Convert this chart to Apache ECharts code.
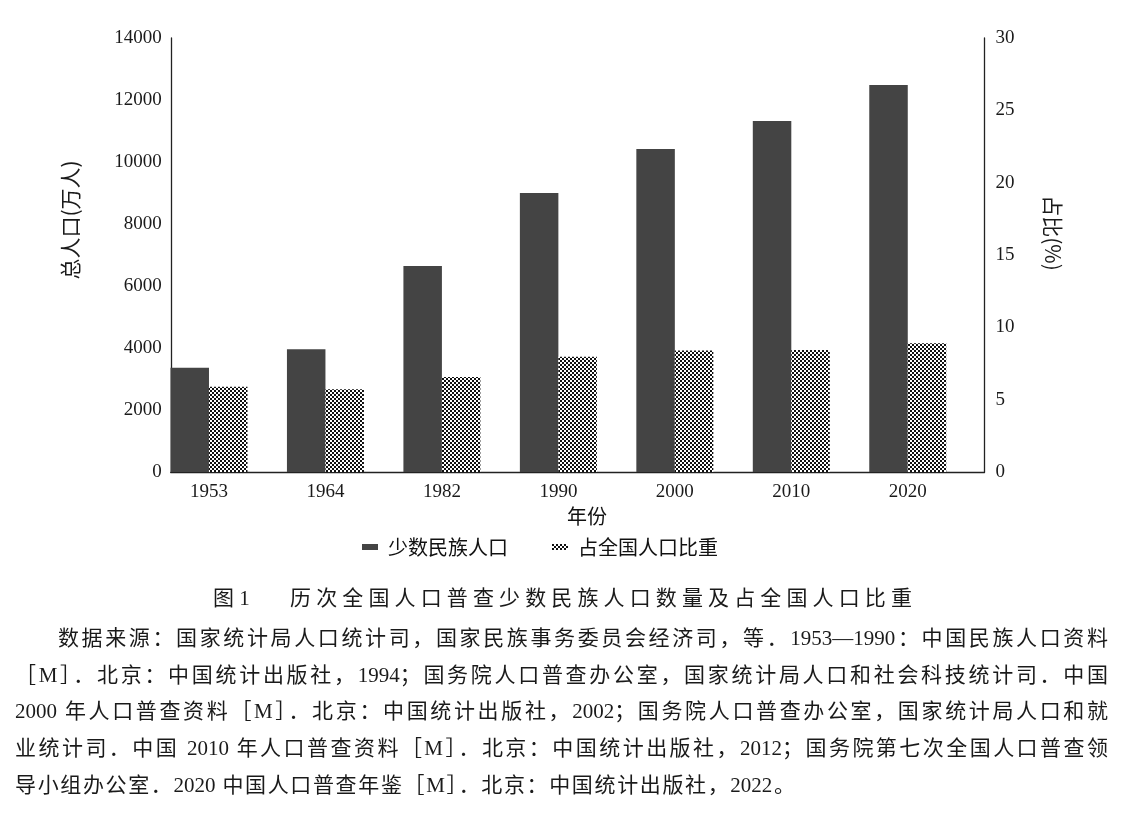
<!DOCTYPE html>
<html>
<head>
<meta charset="utf-8">
<script src="https://cdn.jsdelivr.net/npm/echarts@6/dist/echarts.min.js"></script>
<style>
  html, body { margin: 0; padding: 0; background: #fff; }
  #wrap { position: relative; width: 1121px; height: 837px; overflow: hidden; }
  #chart { position: absolute; left: 0; top: 0; width: 1121px; height: 837px; }
  .cap { position: absolute; color: #1a1a1a; font-family: "Liberation Serif", "Noto Sans CJK SC", serif; white-space: nowrap; }
  #title1 { left: 213px; top: 585px; font-size: 21px; line-height: 26px; }
  #title2 { left: 290px; top: 585px; width: 622px; font-size: 21px; line-height: 26px; text-align: justify; text-align-last: justify; white-space: normal; }
  .ln { position: absolute; font-size: 21px; line-height: 26px; height: 26px; white-space: normal; text-align: justify; text-align-last: justify; overflow: hidden; }
</style>
</head>
<body>
<div id="wrap">
  <div id="chart"></div>
  <div class="cap" id="title1">图&nbsp;1</div>
  <div class="cap" id="title2">历次全国人口普查少数民族人口数量及占全国人口比重</div>
  <div class="cap ln" style="left:58px; top:625px; width:1050px;">数据来源：国家统计局人口统计司，国家民族事务委员会经济司，等．1953—1990：中国民族人口资料</div>
  <div class="cap ln" style="left:15px; top:662px; width:1093px;">［M］．北京：中国统计出版社，1994；国务院人口普查办公室，国家统计局人口和社会科技统计司．中国</div>
  <div class="cap ln" style="left:15px; top:698px; width:1093px;">2000 年人口普查资料［M］．北京：中国统计出版社，2002；国务院人口普查办公室，国家统计局人口和就</div>
  <div class="cap ln" style="left:15px; top:735px; width:1093px;">业统计司．中国 2010 年人口普查资料［M］．北京：中国统计出版社，2012；国务院第七次全国人口普查领</div>
  <div class="cap ln" style="left:15px; top:772px; width:780px;">导小组办公室．2020 中国人口普查年鉴［M］．北京：中国统计出版社，2022。</div>
</div>
<script>
// ---- data ----
var years = ['1953', '1964', '1982', '1990', '2000', '2010', '2020'];
var minorityPop = [3362, 3958, 6645, 9000, 10419, 11323, 12484];   // 万人
var sharePct = [5.90, 5.72, 6.57, 7.97, 8.39, 8.43, 8.90];          // %
var leftTicks = { min: 0, max: 14000, interval: 2000 };
var rightTicks = { min: 0, max: 30, interval: 5 };
var seriesNames = ['少数民族人口', '占全国人口比重'];

// checker pattern
var pc = document.createElement('canvas');
pc.width = 4; pc.height = 4;
var g = pc.getContext('2d');
g.fillStyle = '#ffffff'; g.fillRect(0, 0, 4, 4);
g.fillStyle = '#111111';
g.fillRect(0, 0, 2, 2); g.fillRect(2, 2, 2, 2);

var labelFont = { fontFamily: 'Liberation Serif', fontSize: 19, color: '#1a1a1a' };
var axisLine = { show: true, lineStyle: { color: '#222', width: 1.3 } };
function plain(v) { return String(v); }

var chart = echarts.init(document.getElementById('chart'));
chart.setOption({
  animation: false,
  backgroundColor: '#fff',
  grid: [
    { left: 150.75, right: 155, top: 38, bottom: 365 },
    { left: 170.7, right: 136.5, top: 38, bottom: 365 }
  ],
  legend: {
    data: [{ name: seriesNames[0], icon: 'rect' }, { name: seriesNames[1], icon: 'rect' }],
    left: 357, top: 532,
    itemWidth: 16, itemHeight: 6, itemGap: 44,
    textStyle: { fontFamily: 'Noto Sans CJK SC', fontSize: 20, color: '#111', padding: [0, 0, 0, 5] }
  },
  xAxis: [
    {
      type: 'category', gridIndex: 0, data: years,
      axisLine: { show: false }, axisTick: { show: false },
      axisLabel: Object.assign({ margin: 11 }, labelFont)
    },
    {
      type: 'value', gridIndex: 1, min: 0, max: 1,
      axisLine: axisLine, axisTick: { show: false }, axisLabel: { show: false }, splitLine: { show: false }
    }
  ],
  yAxis: [
    {
      type: 'value', gridIndex: 0, position: 'left', offset: -20,
      min: leftTicks.min, max: leftTicks.max, interval: leftTicks.interval,
      axisLine: axisLine, axisTick: { show: false }, splitLine: { show: false },
      axisLabel: Object.assign({ margin: 9, formatter: plain }, labelFont)
    },
    {
      type: 'value', gridIndex: 0, position: 'right', offset: 18.5,
      min: rightTicks.min, max: rightTicks.max, interval: rightTicks.interval,
      axisLine: axisLine, axisTick: { show: false }, splitLine: { show: false },
      axisLabel: Object.assign({ margin: 11, formatter: plain }, labelFont)
    },
    {
      type: 'value', gridIndex: 1, show: false, min: 0, max: 1
    }
  ],
  series: [
    {
      name: seriesNames[0], type: 'bar', xAxisIndex: 0, yAxisIndex: 0,
      data: minorityPop, barWidth: 38.5, barGap: '0%',
      itemStyle: { color: '#444444' }
    },
    {
      name: seriesNames[1], type: 'bar', xAxisIndex: 0, yAxisIndex: 1,
      data: sharePct, barWidth: 38.5, barGap: '0%',
      itemStyle: { color: { image: pc, repeat: 'repeat' } }
    }
  ],
  graphic: [
    {
      type: 'text', x: 70, y: 220, rotation: Math.PI / 2,
      style: { text: '总人口(万人)', fontFamily: 'Noto Sans CJK SC', fontSize: 21, fill: '#1a1a1a', align: 'center', verticalAlign: 'middle' }
    },
    {
      type: 'text', x: 1053, y: 233, rotation: -Math.PI / 2,
      style: { text: '占比(%)', fontFamily: 'Noto Sans CJK SC', fontSize: 21, fill: '#1a1a1a', align: 'center', verticalAlign: 'middle' }
    },
    {
      type: 'text', x: 587, y: 516,
      style: { text: '年份', fontFamily: 'Noto Sans CJK SC', fontSize: 20, fill: '#111', align: 'center', verticalAlign: 'middle' }
    }
  ]
});
</script>
</body>
</html>
